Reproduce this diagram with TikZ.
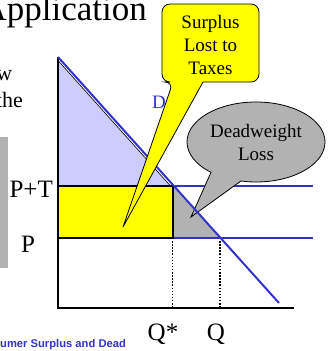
\documentclass[tikz,border=0pt]{standalone}
\usepackage{fontspec}
\setmainfont{Liberation Serif}
\newfontfamily\capfont{Liberation Sans}
\usetikzlibrary{calc,shapes.callouts}
\definecolor{demblue}{RGB}{51,51,204}
\definecolor{cslav}{RGB}{204,204,255}
\definecolor{taxyellow}{RGB}{255,255,0}
\definecolor{dwlgray}{RGB}{178,178,178}
\tikzset{
  axisline/.style={draw=black, line width=2.2pt},
  demline/.style={draw=demblue, line width=2pt},
  priceline/.style={draw=demblue, line width=1.8pt},
  guide/.style={draw=black, line width=1.5pt, dash pattern=on 1.5pt off 1.6pt},
  lbl/.style={inner sep=0pt, font=\fontsize{25}{30}\selectfont},
  calltext/.style={inner sep=0pt, align=center, font=\fontsize{19}{23}\selectfont},
  taxcall/.style={draw=black, fill=taxyellow, line width=0.8pt},
  dwlcall/.style={ellipse callout, draw=black, fill=dwlgray, line width=0.8pt,
    minimum width=138pt, minimum height=80pt, inner sep=0pt, callout pointer arc=28,
    align=center, font=\fontsize{19}{23}\selectfont}
}
\begin{document}
\begin{tikzpicture}[x=1pt,y=-1pt]
  \useasboundingbox (0,0) rectangle (329,351);
  \coordinate (O) at (58,308);
  \coordinate (ytop) at (58,57);
  \coordinate (xend) at (294,308);
  \coordinate (dtop) at (58,57);
  \coordinate (dend) at (279,303);
  \coordinate (csTop) at (58,60.5);
  \coordinate (csEnd) at (170.5,186);
  \coordinate (pA) at (58,186);
  \coordinate (ptA) at (172.5,186);
  \coordinate (pB) at (58,238);
  \coordinate (qA) at (172.5,238);
  \coordinate (ptB) at (220,238);
  \coordinate (ptEnd) at (313,186);
  \coordinate (pEnd) at (313,238);

  \node[anchor=base east, inner sep=0pt, font=\fontsize{35}{40}\selectfont] (title) at (147,20) {Application};
  \node[anchor=base east, inner sep=0pt, font=\fontsize{22}{27}\selectfont] (txtA) at (12.5,80) {w};
  \node[anchor=base east, inner sep=0pt, font=\fontsize{22}{27}\selectfont] (txtB) at (23,107) {the};
  \fill[dwlgray] (-10,137) rectangle (8,268);

  \fill[cslav] (csTop) -- (csEnd) -- (pA) -- cycle;
  \draw[black, line width=0.6pt] (csTop) -- (csEnd);
  \fill[dwlgray] (ptA) -- (ptB) -- (qA) -- cycle;
  \draw[priceline] (ptA) -- (ptEnd);
  \draw[priceline] (qA) -- (pEnd);
  \filldraw[fill=taxyellow, draw=black, line width=2pt] (pA) rectangle (qA);
  \draw[guide] ($(qA)+(0,3)$) -- (qA |- O);
  \draw[guide] ($(ptB)+(0,3)$) -- (ptB |- O);
  \draw[axisline] (ytop) -- (O) -- (xend);

  \coordinate (dwltip) at (191,217);
  \node[dwlcall, callout absolute pointer={(dwltip)}] (dwl) at (256,142) {Deadweight\\Loss};

  \draw[demline] (dtop) -- (dend);
  \node[anchor=base, inner sep=0pt, text=demblue, font=\fontsize{19}{23}\selectfont] (dlbl) at (159,108) {D};

  \coordinate (tbNW) at (162,4);
  \coordinate (tbSE) at (259,82);
  \coordinate (taxb1) at (173,82);
  \coordinate (taxb2) at (203,82);
  \coordinate (taxtip) at (123,227);
  \path[taxcall] (taxb2) [rounded corners=8pt] -- (tbSE) -- (tbSE |- tbNW) -- (tbNW) -- (tbNW |- tbSE) -- (taxb1) [sharp corners] -- (taxtip) -- cycle;
  \node[calltext] (taxtext) at ($(tbNW)!0.5!(tbSE)+(0,2)$) {Surplus\\Lost to\\Taxes};

  \node[lbl, anchor=base east] (lblPT) at (53,197) {P+T};
  \node[lbl, anchor=base] (lblP) at (28,252) {P};
  \node[lbl, anchor=base] (lblQs) at (163,340) {Q*};
  \node[lbl, anchor=base] (lblQ) at (216,340) {Q};
  \node[anchor=base west, inner sep=0pt, text=demblue, font=\capfont\bfseries\fontsize{11.2}{13}\selectfont] (cap) at (0,347) {umer Surplus and Dead};
\end{tikzpicture}
\end{document}
